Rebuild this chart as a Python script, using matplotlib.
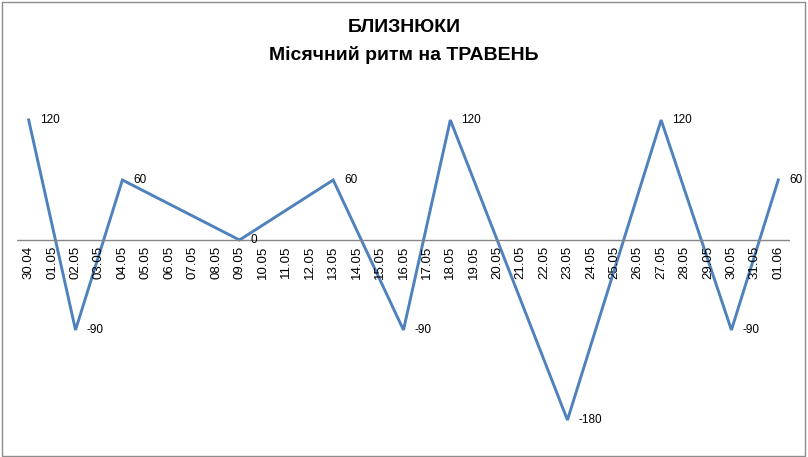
import matplotlib
matplotlib.use("Agg")
from matplotlib import pyplot as plt
from matplotlib.patches import Rectangle

dates = ["30.04", "01.05", "02.05", "03.05", "04.05", "05.05", "06.05", "07.05", "08.05",
         "09.05", "10.05", "11.05", "12.05", "13.05", "14.05", "15.05", "16.05", "17.05",
         "18.05", "19.05", "20.05", "21.05", "22.05", "23.05", "24.05", "25.05", "26.05",
         "27.05", "28.05", "29.05", "30.05", "31.05", "01.06"]
# only these days have a value, the rest of the cells are empty
values = [120, None, -90, None, 60, None, None, None, None,
          0, None, None, None, 60, None, None, -90, None,
          120, None, None, None, None, -180, None, None, None,
          120, None, None, -90, None, 60]

plt.rcParams['font.family'] = ['Liberation Sans', 'DejaVu Sans']

fig = plt.figure(figsize=(8.08, 4.57), dpi=100)
fig.patches.append(Rectangle((0.003, 0.003), 0.993, 0.993, transform=fig.transFigure,
                             fill=False, edgecolor="#8c8c8c", linewidth=1))
ax = fig.add_axes([0.021, 0.0591, 0.9567, 0.7002])

xs = [i for i in range(len(values)) if values[i] is not None]
ys = [values[i] for i in xs]
ax.plot(xs, ys, color="#4f81bd", linewidth=2.1, solid_joinstyle="miter")
for x, y in zip(xs, ys):
    ax.annotate(str(y), (x, y), xytext=(8, 0), textcoords="offset points",
                ha="left", va="center", fontsize=8.5)

ax.axhline(0, color="#868686", linewidth=1)
for i, d in enumerate(dates):
    ax.annotate(d, (i, 0), xytext=(0, -4), textcoords="offset points",
                ha="center", va="top", rotation=90, fontsize=9.5)

ax.set_xlim(-0.5, len(dates) - 0.5)
ax.set_ylim(-190, 130)
ax.axis("off")

fig.text(0.5, 0.909, "БЛИЗНЮКИ\nМісячний ритм на ТРАВЕНЬ", ha="center", va="center",
         fontsize=14, fontweight="bold", linespacing=1.7)

fig.savefig("out.png", dpi=100)
